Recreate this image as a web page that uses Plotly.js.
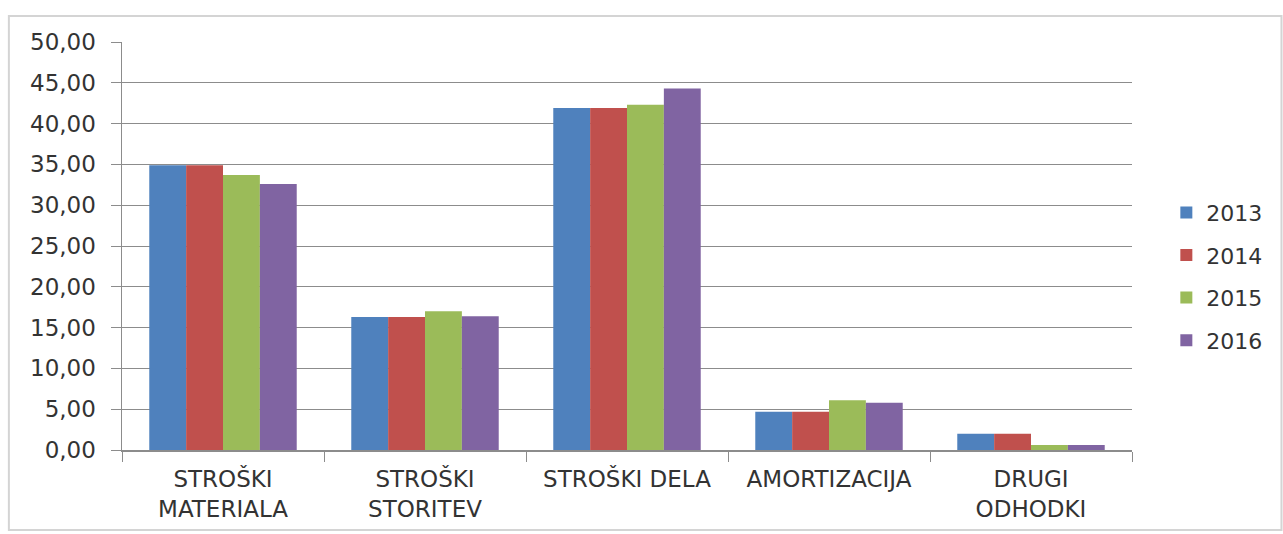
<!DOCTYPE html>
<html><head><meta charset="utf-8">
<script src="https://cdn.plot.ly/plotly-3.0.1.min.js"></script>
<style>html,body{margin:0;padding:0;background:#fff;}</style>
</head><body><div id="chart" style="width:1283px;height:534px;"></div>
<script>
const categories = ["STROŠKI<br>MATERIALA", "STROŠKI<br>STORITEV", "STROŠKI DELA", "AMORTIZACIJA", "DRUGI<br>ODHODKI"];
const years = ["2013", "2014", "2015", "2016"];
const v2013 = [34.9, 16.3, 41.9, 4.7, 2.0];
const v2014 = [34.9, 16.3, 41.9, 4.7, 2.0];
const v2015 = [33.7, 17.0, 42.3, 6.1, 0.6];
const v2016 = [32.6, 16.4, 44.3, 5.8, 0.6];
const yTicks = [0, 5, 10, 15, 20, 25, 30, 35, 40, 45, 50];
const colors = ["#4F81BD", "#C0504D", "#9BBB59", "#8064A2"];
const series = [v2013, v2014, v2015, v2016];

const traces = series.map((vals, i) => ({
  type: "bar", name: years[i], x: categories, y: vals, legendgroup: "g" + i,
  marker: {color: colors[i]}, hoverinfo: "none"
}));

const layout = {
  width: 1283, height: 534,
  margin: {l: 122, r: 151, t: 42, b: 84},
  paper_bgcolor: "#fff", plot_bgcolor: "#fff",
  separators: ",.",
  font: {family: "DejaVu Sans, sans-serif", size: 22, color: "#333333"},
  barmode: "group", bargap: 0.27, bargroupgap: 0,
  xaxis: {
    type: "category", tickson: "boundaries", ticks: "outside", ticklen: 10,
    tickcolor: "#8c8c8c", showline: true, linecolor: "#8c8c8c", linewidth: 1.5,
    showgrid: false, tickfont: {size: 23}, ticklabelstandoff: 8, automargin: false
  },
  yaxis: {
    range: [0, 50], tickvals: yTicks, tickformat: ".2f", ticks: "outside", ticklen: 10,
    tickcolor: "#8c8c8c", showline: true, linecolor: "#8c8c8c", linewidth: 1.5,
    showgrid: true, gridcolor: "#8c8c8c", gridwidth: 1, zeroline: false,
    tickfont: {size: 23}, ticklabelstandoff: 10, automargin: false
  },
  legend: {
    x: 1.034, y: 0.425, xanchor: "left", yanchor: "middle",
    font: {size: 22}, itemwidth: 30, tracegroupgap: 11,
    traceorder: "grouped", bgcolor: "rgba(0,0,0,0)"
  },
  shapes: [{
    type: "rect", xref: "paper", yref: "paper",
    x0: -0.112, x1: 1.148, y0: -0.196, y1: 1.064,
    line: {color: "#d4d4d4", width: 2}, fillcolor: "rgba(0,0,0,0)", layer: "below"
  }],
  showlegend: true
};
Plotly.newPlot("chart", traces, layout, {staticPlot: true, displayModeBar: false});
</script></body></html>
